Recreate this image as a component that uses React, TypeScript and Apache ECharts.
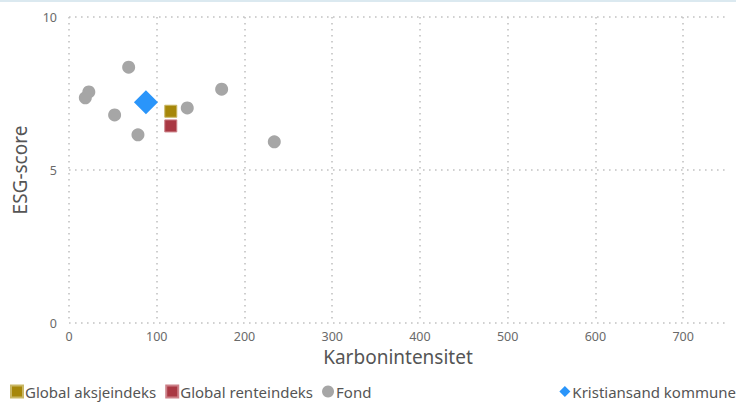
import React, { useEffect, useRef } from "react";
import * as echarts from "echarts";

const seriesNames = ["Global aksjeindeks", "Global renteindeks", "Fond", "Kristiansand kommune"];
const aksjeData: number[][] = [[116, 6.92]];
const renteData: number[][] = [[116, 6.44]];
const fondData: number[][] = [
  [68, 8.36],
  [22.6, 7.55],
  [18.6, 7.36],
  [52, 6.8],
  [78.6, 6.15],
  [134.8, 7.03],
  [174, 7.64],
  [234, 5.92],
];
const kommuneData: number[][] = [[87.7, 7.21]];
const xTicks = [0, 100, 200, 300, 400, 500, 600, 700];
const yTicks = [0, 5, 10];

const FONT = "'Noto Sans', 'Open Sans', sans-serif";

export default function App() {
  const ref = useRef<HTMLDivElement>(null);
  useEffect(() => {
    if (!ref.current) return;
    const chart = echarts.init(ref.current, undefined, { renderer: "svg" });
    const split = {
      show: true,
      showMinLine: true,
      showMaxLine: false,
      lineStyle: { color: "#c2c2c2", width: 1.6, type: [1.6, 4.4] as any },
    };
    chart.setOption({
      animation: false,
      backgroundColor: "#ffffff",
      textStyle: { fontFamily: FONT },
      graphic: [
        {
          type: "rect",
          shape: { x: 0, y: 0, width: 736, height: 2 },
          style: { fill: "#dbe9f0" },
        },
      ],
      grid: { left: 69, right: 9, top: 17, bottom: 80, containLabel: false },
      xAxis: {
        type: "value",
        min: 0,
        max: 750,
        interval: 100,
        name: "Karbonintensitet",
        nameLocation: "middle",
        nameGap: 24,
        nameTextStyle: { fontSize: 19, color: "#555555", fontFamily: FONT },
        axisLine: { show: false },
        axisTick: { show: false },
        axisLabel: {
          color: "#6a6a6a",
          fontSize: 12.5,
          margin: 7,
          showMaxLabel: false,
          formatter: (v: number) => (xTicks.includes(v) ? String(v) : ""),
        },
        splitLine: split,
      },
      yAxis: {
        type: "value",
        min: 0,
        max: 10,
        interval: 5,
        name: "ESG-score",
        nameLocation: "middle",
        nameGap: 40,
        nameTextStyle: { fontSize: 19, color: "#555555", fontFamily: FONT },
        axisLine: { show: false },
        axisTick: { show: false },
        axisLabel: {
          color: "#6a6a6a",
          fontSize: 12.5,
          margin: 12,
          formatter: (v: number) => (yTicks.includes(v) ? String(v) : ""),
        },
        splitLine: { ...split, showMaxLine: true },
      },
      legend: [
        {
          left: 10,
          top: 384,
          padding: 0,
          itemWidth: 12,
          itemHeight: 12,
          itemGap: 9,
          textStyle: { fontSize: 15, color: "#555555", padding: [0, 0, 0, -3] },
          data: [
            { name: seriesNames[0], icon: "rect" },
            { name: seriesNames[1], icon: "rect" },
            { name: seriesNames[2], icon: "circle" },
          ],
        },
        {
          right: 0,
          top: 384,
          padding: 0,
          itemWidth: 11,
          itemHeight: 11,
          textStyle: { fontSize: 15, color: "#555555", padding: [0, 0, 0, -3] },
          data: [{ name: seriesNames[3], icon: "diamond" }],
        },
      ],
      series: [
        {
          name: seriesNames[0],
          type: "scatter",
          symbol: "rect",
          symbolSize: 12,
          data: aksjeData,
          itemStyle: { color: "#a6870a", borderColor: "#c9b765", borderWidth: 1, opacity: 1 },
        },
        {
          name: seriesNames[1],
          type: "scatter",
          symbol: "rect",
          symbolSize: 12,
          data: renteData,
          itemStyle: { color: "#a93843", borderColor: "#cc8088", borderWidth: 1, opacity: 1 },
        },
        {
          name: seriesNames[2],
          type: "scatter",
          symbol: "circle",
          symbolSize: 13,
          data: fondData,
          itemStyle: { color: "#a6a6a6", opacity: 1 },
        },
        {
          name: seriesNames[3],
          type: "scatter",
          symbol: "diamond",
          symbolSize: 24,
          data: kommuneData,
          itemStyle: { color: "#2a95fa", opacity: 1 },
        },
      ],
    });
    return () => chart.dispose();
  }, []);
  return <div ref={ref} style={{ width: 736, height: 403, position: "absolute", left: 0, top: 0 }} />;
}
